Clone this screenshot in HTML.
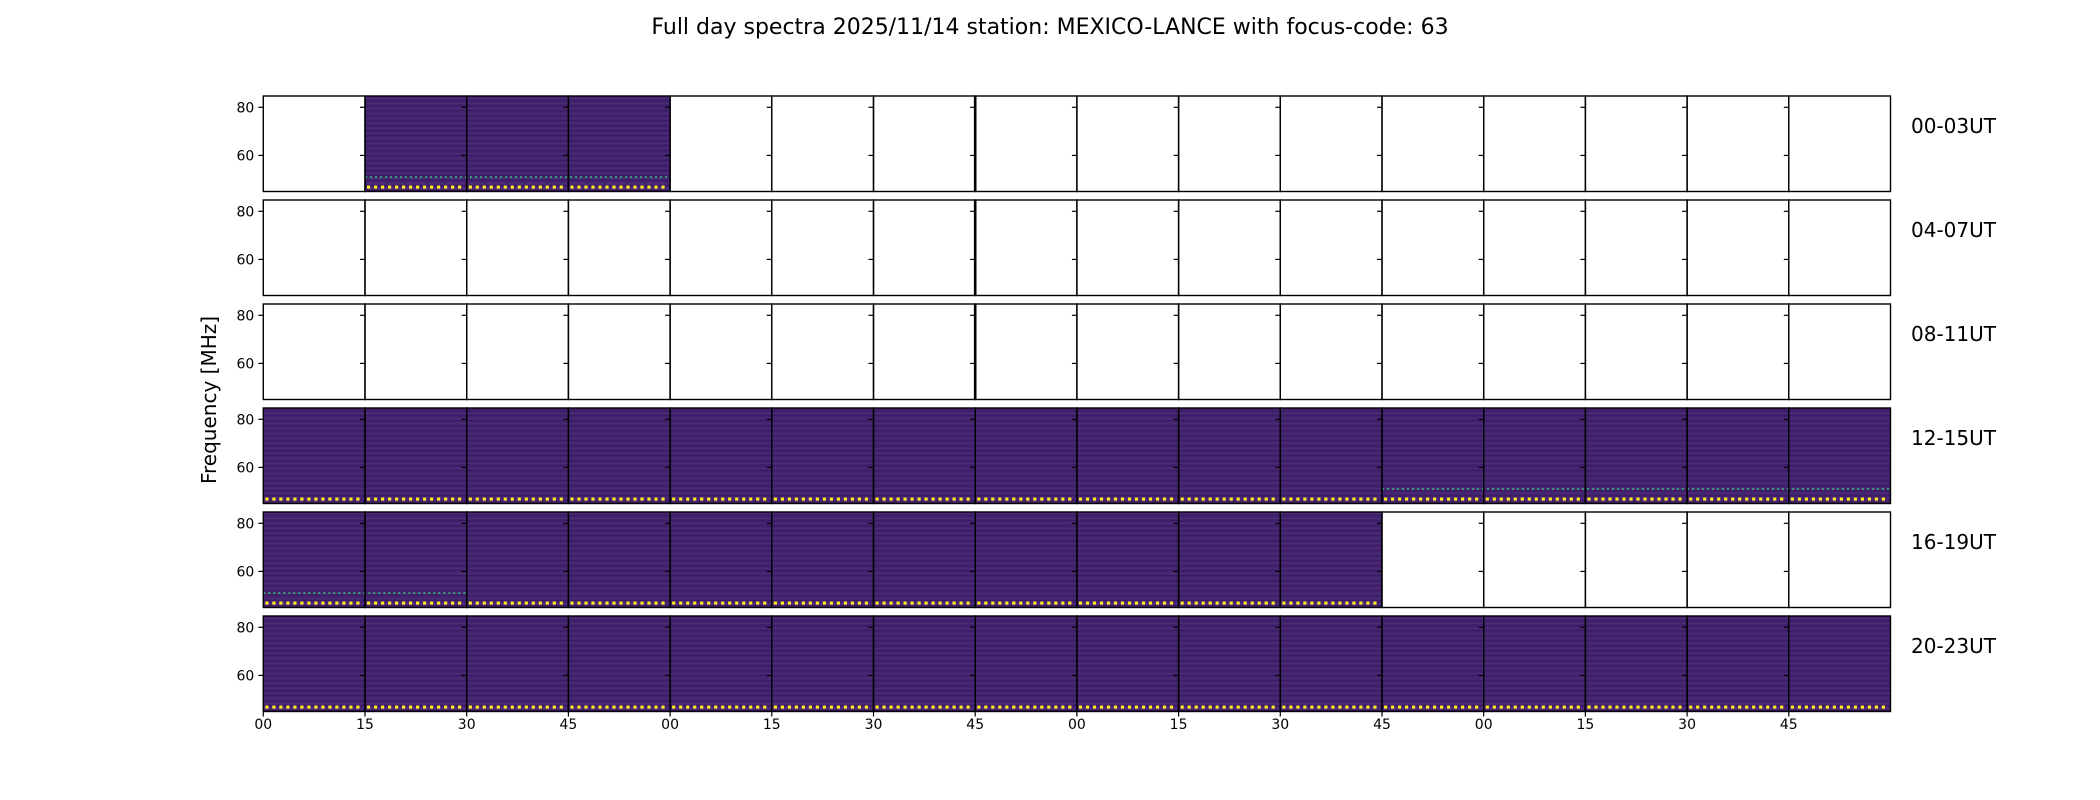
<!DOCTYPE html>
<html><head><meta charset="utf-8"><style>
html,body{margin:0;padding:0;background:#fff;}
svg{display:block;font-family:"DejaVu Sans","Liberation Sans",sans-serif;}
</style></head><body>
<svg id="fig" width="2100" height="800" viewBox="0 0 2100 800">
<defs>
<pattern id="stripes" width="6" height="5" patternUnits="userSpaceOnUse">
<rect width="6" height="5" fill="#45246f"/>
<rect y="0" width="6" height="1.3" fill="#3c1a68"/>
<rect y="3" width="6" height="0.8" fill="#4a2e78"/>
</pattern>
</defs>
<text x="1050" y="34" text-anchor="middle" font-size="22" fill="#000">Full day spectra 2025/11/14 station: MEXICO-LANCE with focus-code: 63</text>
<text transform="translate(216,400) rotate(-90)" text-anchor="middle" font-size="20" fill="#000">Frequency [MHz]</text>
<g id="panels"></g>
</svg>
<script>
// data: which 15-min slots have spectra (row = 4h block, 16 slots each)
const rowLabels = ["00-03UT","04-07UT","08-11UT","12-15UT","16-19UT","20-23UT"];
const filledRow0 = [0,1,1,1,0,0,0,0,0,0,0,0,0,0,0,0];
const filledRow1 = [0,0,0,0,0,0,0,0,0,0,0,0,0,0,0,0];
const filledRow2 = [0,0,0,0,0,0,0,0,0,0,0,0,0,0,0,0];
const filledRow3 = [1,1,1,1,1,1,1,1,1,1,1,1,1,1,1,1];
const filledRow4 = [1,1,1,1,1,1,1,1,1,1,1,0,0,0,0,0];
const filledRow5 = [1,1,1,1,1,1,1,1,1,1,1,1,1,1,1,1];
const yTicks = [60,80];
const xTickLabels = ["00","15","30","45","00","15","30","45","00","15","30","45","00","15","30","45"];
const freqMin = 45, freqMax = 84.7;
// interference line at ~51 MHz in row 0 (row, startCol, endCol, freq)
const lineRows = [0,3,4];
const lineStart = [1,11,0];
const lineEnd = [4,16,2];
const lineFreq = [51,51,51];

const filled = [filledRow0,filledRow1,filledRow2,filledRow3,filledRow4,filledRow5];
const NS = "http://www.w3.org/2000/svg";
const g = document.getElementById('panels');
const X0 = 263.3, CW = 101.7, Y0 = 96, RP = 104, RH = 95.5;
function xCol(i){return X0 + i*CW;}
function yRow(r){return Y0 + r*RP;}
function yFreq(r,f){return yRow(r) + (freqMax - f)/(freqMax-freqMin)*RH;}
function mk(tag, attrs){const e=document.createElementNS(NS,tag);for(const k in attrs)e.setAttribute(k,attrs[k]);return e;}

for(let r=0;r<6;r++){
  for(let c=0;c<16;c++){
    if(filled[r][c]){
      const rc = mk('rect',{x:xCol(c),y:yRow(r),width:CW,height:RH,fill:'url(#stripes)'});
      
      
      g.appendChild(rc);
      for(let d=xCol(c)+2; d<xCol(c+1)-2; d+=7){
        const dot = mk('rect',{x:d,y:yRow(r)+RH-6,width:3.2,height:3.2,fill:'#fde725'});
        
        
        g.appendChild(dot);
      }
    }
  }
}
lineRows.forEach((r,k)=>{
  const ln = mk('line',{x1:xCol(lineStart[k]),x2:xCol(lineEnd[k]),y1:yFreq(r,lineFreq[k]),y2:yFreq(r,lineFreq[k]),stroke:'#35b779','stroke-width':1.6,'stroke-dasharray':'2 3'});
  
  
  g.appendChild(ln);
});
for(let r=0;r<6;r++){
  for(let c=0;c<16;c++){
    const fr = mk('rect',{x:xCol(c),y:yRow(r),width:CW,height:RH,fill:'none',stroke:'#000','stroke-width':1.4});
    
    
    g.appendChild(fr);
    yTicks.forEach(t=>{
      const tk = mk('line',{x1:xCol(c)-5,x2:xCol(c),y1:yFreq(r,t),y2:yFreq(r,t),stroke:'#000','stroke-width':1.2});
      
      
      g.appendChild(tk);
    });
  }
  yTicks.forEach(t=>{
    const tl = mk('text',{x:xCol(0)-9,y:yFreq(r,t)+5,'text-anchor':'end','font-size':14,fill:'#000'});
    tl.textContent = t;
    
    
    g.appendChild(tl);
  });
  const lab = mk('text',{x:1911,y:yRow(r)+37,'font-size':20,fill:'#000'});
  lab.textContent = rowLabels[r];
  
  
  g.appendChild(lab);
}
for(let r=0;r<3;r++){
  const ln = mk('line',{x1:xCol(7),x2:xCol(7),y1:yRow(r),y2:yRow(r)+RH,stroke:'#000','stroke-width':2.6});
  
  
  g.appendChild(ln);
}
xTickLabels.forEach((t,i)=>{
  const tk = mk('line',{x1:xCol(i),x2:xCol(i),y1:yRow(5)+RH,y2:yRow(5)+RH+5,stroke:'#000','stroke-width':1.2});
  
  
  g.appendChild(tk);
  const tl = mk('text',{x:xCol(i),y:729,'text-anchor':'middle','font-size':14,fill:'#000'});
  tl.textContent = t;
  
  
  g.appendChild(tl);
});
</script>
</body></html>
